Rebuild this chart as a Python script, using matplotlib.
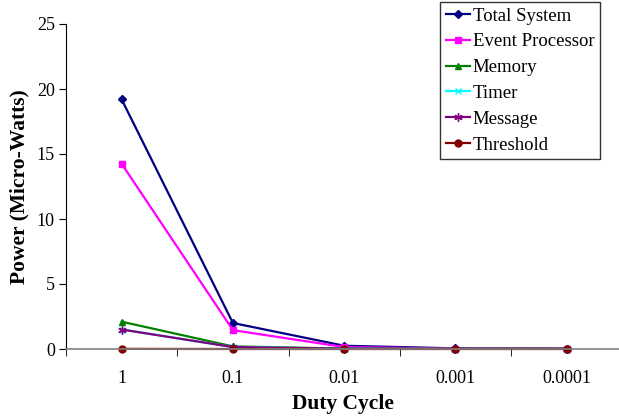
import matplotlib
matplotlib.use("Agg")
import matplotlib.pyplot as plt
from matplotlib.ticker import FixedLocator

plt.rcParams['font.family'] = ['Liberation Serif', 'DejaVu Serif']

duty_cycle = ['1', '0.1', '0.01', '0.001', '0.0001']
total_system = [19.2, 2.0, 0.25, 0.05, 0.03]
event_processor = [14.25, 1.45, 0.15, 0.03, 0.02]
memory = [2.1, 0.2, 0.03, 0.01, 0.01]
timer = [1.5, 0.15, 0.02, 0.01, 0.01]
message = [1.5, 0.15, 0.02, 0.01, 0.01]
threshold = [0.01, 0.0, 0.0, 0.0, 0.0]

series = [
    ('Total System', total_system, '#000080', 'D', 4),
    ('Event Processor', event_processor, '#FF00FF', 's', 5),
    ('Memory', memory, '#008000', '^', 5),
    ('Timer', timer, '#00FFFF', 'x', 5),
    ('Message', message, '#800080', (6, 2, 0), 6),
    ('Threshold', threshold, '#800000', 'o', 5),
]

fig = plt.figure(figsize=(6.19, 4.2), dpi=100)
ax = fig.add_axes([66 / 619, 1 - 349 / 420, 1 - 66 / 619, (349 - 24) / 420])

x = list(range(len(duty_cycle)))
for name, vals, color, marker, ms in series:
    ax.plot(x, vals, color=color, marker=marker, markersize=ms, linewidth=1.6,
            label=name, markeredgecolor=color, clip_on=False)

ax.set_xlim(-0.5, 4.47)
ax.set_ylim(0, 25)
ax.set_yticks([0, 5, 10, 15, 20, 25])
ax.set_xticks(x)
ax.set_xticklabels(duty_cycle)
ax.tick_params(axis='x', which='major', length=0, pad=15, labelsize=13)
ax.xaxis.set_minor_locator(FixedLocator([-0.5, 0.5, 1.5, 2.5, 3.5]))
ax.tick_params(axis='x', which='minor', length=5, direction='out', color='black')
ax.tick_params(axis='y', length=5, direction='out', labelsize=13, pad=3)

for s in ['top', 'right']:
    ax.spines[s].set_visible(False)
ax.spines['bottom'].set_color('#808080')
ax.spines['bottom'].set_linewidth(1.2)

ax.set_xlabel('Duty Cycle', fontsize=15.5, fontweight='bold', labelpad=5)
ax.set_ylabel('Power (Micro-Watts)', fontsize=15.5, fontweight='bold', labelpad=5)

leg = ax.legend(loc='upper right', bbox_to_anchor=(600 / 619, 1 - 2 / 420),
                bbox_transform=fig.transFigure, fontsize=13.5, frameon=True,
                fancybox=False, edgecolor='black', handlelength=1.3,
                handletextpad=0.15, labelspacing=0.46, borderpad=0.3,
                borderaxespad=0)
leg.get_frame().set_linewidth(1.0)

fig.savefig('out.png', dpi=100)
